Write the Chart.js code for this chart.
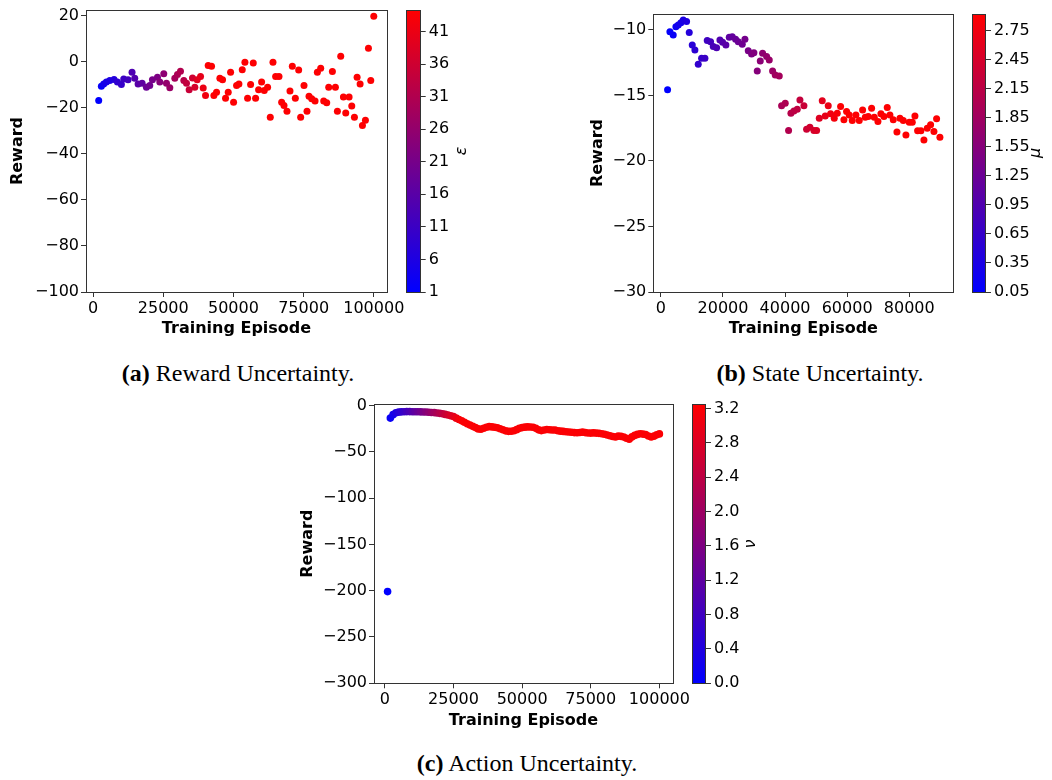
<!DOCTYPE html>
<html>
<head>
<meta charset="utf-8">
<script src="https://cdn.jsdelivr.net/npm/chart.js@4.4.1/dist/chart.umd.min.js"></script>
<style>
html,body{margin:0;padding:0;background:#fff;}
body{width:1052px;height:780px;position:relative;overflow:hidden;}
canvas{position:absolute;}
.cap{position:absolute;font-family:"Liberation Serif","Times New Roman",serif;font-size:24px;color:#000;white-space:nowrap;transform:translate(-50%,-50%);line-height:1;}
</style>
</head>
<body>
<canvas id="ca"></canvas>
<canvas id="cba"></canvas>
<canvas id="cb"></canvas>
<canvas id="cbb"></canvas>
<canvas id="cc"></canvas>
<canvas id="cbc"></canvas>
<div class="cap" style="left:238px;top:373px"><b>(a)</b> Reward Uncertainty.</div>
<div class="cap" style="left:820px;top:373px"><b>(b)</b> State Uncertainty.</div>
<div class="cap" style="left:527px;top:763px"><b>(c)</b> Action Uncertainty.</div>
<script>
// ---------------- DATA ----------------
// (a) Reward uncertainty
const aEpisodes = [2020,2970,3800,4760,5950,7490,8680,10100,10940,12480,13900,14860,16050,17480,19020,20210,21160,22950,23780,25200,26160,27350,29130,30080,31150,32340,33290,34240,35430,36260,37100,38290,39240,40070,41020,42210,43050,43990,45180,46130,47200,48150,48990,50060,51130,51960,53150,54100,55050,56120,57070,57900,58970,60040,60990,62180,63130,64090,65040,66230,67180,68010,69080,70150,70980,72050,73240,73950,75140,76210,76930,77880,79070,79900,81090,82160,83230,83940,85250,86320,87030,88220,89180,90010,91200,92150,93100,94050,95120,95950,97020,98090,98920,99990];
const aReward = [-16.9,-10.7,-9.7,-8.9,-8.2,-7.8,-8.9,-9.9,-7.5,-7.9,-4.6,-7.2,-9.7,-9.4,-11.1,-10.4,-7.9,-6.8,-8.9,-5.3,-9.4,-11.4,-7.2,-5.6,-4.2,-8.2,-9.4,-12.2,-7.1,-11.1,-7.9,-6.5,-11.5,-14.7,-1.7,-2.0,-14.7,-13.3,-7.2,-7.9,-15.9,-13.3,-4.6,-17.6,-10.4,-9.7,-3.5,-0.3,-15.9,-9.9,-0.6,-15.9,-12.2,-8.9,-12.5,-11.1,-24.1,-0.3,-6.5,-6.5,-17.6,-19.0,-21.5,-12.8,-2.0,-15.9,-3.6,-24.1,-10.4,-21.5,-15.0,-16.1,-17.1,-4.6,-2.9,-17.1,-17.9,-11.1,-4.3,-11.1,-21.6,2.3,-15.4,-22.3,-15.4,-19.3,-24.1,-6.8,-9.7,-27.7,-25.5,5.8,-8.2,19.7];
const aEpsilon = [1,2,4,5,6,7,9,10,11,12,14,15,16,17,19,20,21,22,24,25,26,27,29,30,31,32,34,35,36,37,39,40,41,42,44,44,44,44,44,44,44,44,44,44,44,44,44,44,44,44,44,44,44,44,44,44,44,44,44,44,44,44,44,44,44,44,44,44,44,44,44,44,44,44,44,44,44,44,44,44,44,44,44,44,44,44,44,44,44,44,44,44,44,44];
const aXTicks = [0,25000,50000,75000,100000];
const aYTicks = [-100,-80,-60,-40,-20,0,20];
const aCbTicks = [1,6,11,16,21,26,31,36,41];

// (b) State uncertainty
const bEpisodes = [2150,2900,3970,4830,5590,6440,7200,8270,9130,10100,10950,12030,13100,14180,14930,16000,16860,17940,19010,19870,20940,22020,22980,24060,24920,26210,27070,28140,29210,29960,31040,32010,32760,34050,34910,35980,36840,38130,38880,40060,41130,41890,42850,43930,44790,46080,46930,48010,49300,50160,51020,51980,52950,53910,54670,55850,56820,57890,58960,59820,60680,61650,62830,63900,64980,65840,66800,67880,68740,69920,70880,71850,72920,73780,74860,76040,77010,78080,78940,80010,80980,81840,82700,83770,84740,85810,86890,87960,88820,89890];
const bReward = [-14.57,-10.13,-10.38,-9.75,-9.62,-9.44,-9.24,-9.36,-10.2,-11.14,-11.52,-12.62,-12.16,-12.16,-10.81,-10.89,-11.27,-11.35,-10.76,-10.94,-11.14,-10.56,-10.51,-10.71,-10.89,-11.09,-10.71,-11.58,-11.83,-11.73,-13.13,-12.36,-11.78,-12.03,-12.29,-13.13,-13.43,-13.51,-15.79,-15.59,-17.67,-16.35,-16.18,-16.05,-15.34,-15.79,-17.57,-17.42,-17.67,-17.67,-16.73,-15.41,-16.56,-15.79,-16.40,-16.73,-16.35,-15.84,-16.86,-16.23,-16.48,-16.91,-16.48,-16.91,-16.10,-16.66,-16.61,-15.97,-16.66,-16.99,-16.40,-16.61,-15.92,-16.48,-16.86,-17.78,-16.73,-16.91,-18.01,-17.04,-17.04,-16.56,-17.70,-17.70,-18.39,-17.50,-17.24,-17.75,-16.78,-18.19];
const bMu = [0.05,0.10,0.15,0.20,0.25,0.30,0.35,0.40,0.45,0.50,0.55,0.60,0.65,0.70,0.75,0.80,0.85,0.90,0.95,1.00,1.05,1.10,1.15,1.20,1.25,1.30,1.35,1.40,1.45,1.50,1.55,1.60,1.65,1.70,1.75,1.80,1.85,1.90,1.95,2.00,2.05,2.10,2.15,2.20,2.25,2.30,2.35,2.40,2.45,2.50,2.55,2.60,2.65,2.70,2.75,2.80,2.85,2.90,2.90,2.90,2.90,2.90,2.90,2.90,2.90,2.90,2.90,2.90,2.90,2.90,2.90,2.90,2.90,2.90,2.90,2.90,2.90,2.90,2.90,2.90,2.90,2.90,2.90,2.90,2.90,2.90,2.90,2.90,2.90,2.90];
const bXTicks = [0,20000,40000,60000,80000];
const bYTicks = [-30,-25,-20,-15,-10];
const bCbTicks = [0.05,0.35,0.65,0.95,1.25,1.55,1.85,2.15,2.45,2.75];

// (c) Action uncertainty
const cEpisodes = [1000,2000,3000,4000,5000,6000,7000,8000,9000,10000,11000,12000,13000,14000,15000,16000,17000,18000,19000,20000,21000,22000,23000,24000,25000,26000,27000,28000,29000,30000,31000,32000,33000,34000,35000,36000,37000,38000,39000,40000,41000,42000,43000,44000,45000,46000,47000,48000,49000,50000,51000,52000,53000,54000,55000,56000,57000,58000,59000,60000,61000,62000,63000,64000,65000,66000,67000,68000,69000,70000,71000,72000,73000,74000,75000,76000,77000,78000,79000,80000,81000,82000,83000,84000,85000,86000,87000,88000,89000,90000,91000,92000,93000,94000,95000,96000,97000,98000,99000,100000];
const cReward = [-201,-13.7,-10,-8,-7.3,-7,-6.8,-6.7,-6.7,-6.8,-6.8,-6.9,-7,-7.1,-7.2,-7.4,-7.6,-7.8,-8.2,-8.6,-9.1,-9.7,-10.4,-11.2,-12,-13.8,-15.2,-16.7,-18.2,-19.8,-21.2,-22.6,-24,-25.4,-25.8,-24.6,-23.6,-22.9,-23.2,-23.6,-24.2,-25.2,-26.3,-27.5,-28,-27.9,-27.3,-26.2,-24.8,-24,-23.5,-23.2,-23.3,-23.6,-24.8,-26.4,-27.2,-26.6,-26.1,-26.3,-26.5,-26.6,-27.3,-27.8,-28.1,-28.4,-28.7,-29,-29.4,-29.5,-29.2,-28.9,-29.4,-29.8,-29.9,-29.7,-29.9,-30.2,-30.6,-31.2,-32,-32.8,-33.6,-34.2,-33.2,-33.4,-34.2,-35.4,-36.6,-34,-32.4,-31.3,-30.6,-31,-31.5,-33,-34.2,-33.2,-31.8,-30.8];
const cNu = [0,0.12,0.24,0.36,0.48,0.6,0.72,0.84,0.96,1.08,1.2,1.32,1.44,1.56,1.68,1.8,1.92,2.04,2.16,2.28,2.4,2.52,2.64,2.76,2.88,3.0,3.12,3.2,3.2,3.2,3.2,3.2,3.2,3.2,3.2,3.2,3.2,3.2,3.2,3.2,3.2,3.2,3.2,3.2,3.2,3.2,3.2,3.2,3.2,3.2,3.2,3.2,3.2,3.2,3.2,3.2,3.2,3.2,3.2,3.2,3.2,3.2,3.2,3.2,3.2,3.2,3.2,3.2,3.2,3.2,3.2,3.2,3.2,3.2,3.2,3.2,3.2,3.2,3.2,3.2,3.2,3.2,3.2,3.2,3.2,3.2,3.2,3.2,3.2,3.2,3.2,3.2,3.2,3.2,3.2,3.2,3.2,3.2,3.2,3.2];
const cXTicks = [0,25000,50000,75000,100000];
const cYTicks = [-300,-250,-200,-150,-100,-50,0];
const cCbTicks = [0,0.4,0.8,1.2,1.6,2.0,2.4,2.8,3.2];

// ---------------- RENDERING ----------------
Chart.defaults.font.family = "'DejaVu Sans', sans-serif";
Chart.defaults.font.size = 16;
Chart.defaults.color = '#000';
const AX = '#333';

function cmap(f){ f = Math.max(0, Math.min(1, f)); return 'rgb(' + Math.round(255*f) + ',0,' + Math.round(255*(1-f)) + ')'; }
function fmtNum(v){ return v < 0 ? '\u2212' + String(Math.abs(v)) : String(v); }
function al(p){ return Math.round(p - 0.5) + 0.5; }

const framePlugin = {
  id: 'frame',
  afterDatasetsDraw(chart){
    const {ctx, chartArea: a} = chart;
    ctx.save();
    ctx.strokeStyle = AX; ctx.lineWidth = 1;
    const l = al(a.left), t = al(a.top), r = al(a.right), b = al(a.bottom);
    ctx.strokeRect(l, t, r - l, b - t);
    ctx.restore();
  }
};
function labelPlugin(text, lx, ly){
  return {
    id: 'cblabel',
    afterDraw(chart){
      const ctx = chart.ctx;
      ctx.save();
      ctx.translate(lx, ly);
      ctx.rotate(-Math.PI/2);
      ctx.font = "italic 16px 'DejaVu Sans'";
      ctx.fillStyle = '#000';
      ctx.textAlign = 'center'; ctx.textBaseline = 'middle';
      ctx.fillText(text, 0, 0);
      ctx.restore();
    }
  };
}
function place(id, p){
  const cv = document.getElementById(id);
  cv.width = p.w; cv.height = p.h;
  cv.style.left = p.x + 'px'; cv.style.top = p.y + 'px';
  return cv;
}

function scatterChart(id, pos, xs, ys, cs, o){
  const cv = place(id, pos);
  return new Chart(cv, {
    type: 'scatter',
    data: { datasets: [{
      data: xs.map((x, i) => ({x: x, y: ys[i]})),
      pointRadius: o.r, pointHoverRadius: o.r, pointBorderWidth: 0,
      pointBackgroundColor: ctx => cmap((cs[ctx.dataIndex] - o.cmin) / (o.cmax - o.cmin))
    }]},
    options: {
      responsive: false, animation: false, events: [],
      layout: { padding: { left: 0, top: o.padT, right: o.padR, bottom: 0 } },
      plugins: { legend: { display: false }, tooltip: { enabled: false } },
      scales: {
        x: {
          type: 'linear', min: o.xmin, max: o.xmax,
          afterBuildTicks: s => { s.ticks = o.xticks.map(v => ({value: v})); },
          afterFit: s => { s.height = o.xH; s.paddingLeft = 0; s.paddingRight = 0; },
          ticks: { callback: v => fmtNum(v), padding: 2, maxRotation: 0, autoSkip: false, color: '#000' },
          grid: { drawOnChartArea: false, drawTicks: true, tickLength: 5, color: AX },
          border: { display: true, color: AX },
          title: { display: true, text: 'Training Episode', color: '#000',
                   font: { size: 16, weight: 'bold' }, padding: { top: 0, bottom: o.xTitlePad } }
        },
        y: {
          type: 'linear', min: o.ymin, max: o.ymax,
          afterBuildTicks: s => { s.ticks = o.yticks.map(v => ({value: v})); },
          afterFit: s => { s.width = o.yW; s.paddingTop = 0; s.paddingBottom = 0; },
          ticks: { callback: v => fmtNum(v), padding: 2, autoSkip: false, color: '#000' },
          grid: { drawOnChartArea: false, drawTicks: true, tickLength: 5, color: AX },
          border: { display: true, color: AX },
          title: { display: true, text: 'Reward', color: '#000',
                   font: { size: 16, weight: 'bold' }, padding: { top: o.yTitlePad, bottom: 0 } }
        }
      }
    },
    plugins: [framePlugin]
  });
}

function colorbar(id, pos, o){
  const cv = place(id, pos);
  return new Chart(cv, {
    type: 'bar',
    data: { labels: [''], datasets: [{
      data: [[o.cmin, o.cmax]],
      backgroundColor: ctx => {
        const ch = ctx.chart, a = ch.chartArea;
        if (!a) return cmap(0.5);
        const g = ch.ctx.createLinearGradient(0, a.bottom, 0, a.top);
        g.addColorStop(0, cmap(0)); g.addColorStop(1, cmap(1));
        return g;
      },
      borderWidth: 0, barPercentage: 1, categoryPercentage: 1
    }]},
    options: {
      responsive: false, animation: false, events: [],
      layout: { padding: { left: o.padL, top: o.padT, right: 0, bottom: o.padB } },
      plugins: { legend: { display: false }, tooltip: { enabled: false } },
      scales: {
        x: { display: false },
        y: {
          position: 'right', min: o.cmin, max: o.cmax,
          afterBuildTicks: s => { s.ticks = o.ticks.map(v => ({value: v})); },
          afterFit: s => { s.width = o.cbW; s.paddingTop = 0; s.paddingBottom = 0; },
          ticks: { callback: v => o.fmt(v), padding: 3, autoSkip: false, color: '#000' },
          grid: { drawOnChartArea: false, drawTicks: true, tickLength: 5, color: AX },
          border: { display: true, color: AX }
        }
      }
    },
    plugins: [framePlugin, labelPlugin(o.label, o.lx, o.ly)]
  });
}

// (a)
scatterChart('ca', {x: 0, y: 0, w: 410, h: 345}, aEpisodes, aReward, aEpsilon, {
  xmin: -2500, xmax: 104700, ymin: -100, ymax: 22.4, xticks: aXTicks, yticks: aYTicks, r: 3.5,
  cmin: 1, cmax: 44.3, padT: 10, padR: 23, yW: 86, xH: 53, yTitlePad: 8.4, xTitlePad: 6.4
});
colorbar('cba', {x: 400, y: 0, w: 80, h: 345}, {
  cmin: 1, cmax: 44.3, ticks: aCbTicks, fmt: v => String(v), padL: 6.7, padT: 10, padB: 53, cbW: 59.3,
  label: '\u03B5', lx: 61.7, ly: 151
});

// (b)
scatterChart('cb', {x: 560, y: 0, w: 400, h: 345}, bEpisodes, bReward, bMu, {
  xmin: -2450, xmax: 94200, ymin: -30, ymax: -8.78, xticks: bXTicks, yticks: bYTicks, r: 3.5,
  cmin: 0.05, cmax: 2.92, padT: 14, padR: 6.7, yW: 93.3, xH: 53, yTitlePad: 28.4, xTitlePad: 6.4
});
colorbar('cbb', {x: 960, y: 0, w: 92, h: 345}, {
  cmin: 0.05, cmax: 2.92, ticks: bCbTicks, fmt: v => v.toFixed(2), padL: 12.7, padT: 14, padB: 53, cbW: 66,
  label: '\u03BC', lx: 76, ly: 153
});

// (c)
scatterChart('cc', {x: 290, y: 390, w: 410, h: 345}, cEpisodes, cReward, cNu, {
  xmin: -3950, xmax: 104950, ymin: -300, ymax: 1.5, xticks: cXTicks, yticks: cYTicks, r: 3.8,
  cmin: 0, cmax: 3.25, padT: 14, padR: 27, yW: 84, xH: 51.7, yTitlePad: 8.4, xTitlePad: 4.4
});
colorbar('cbc', {x: 690, y: 390, w: 80, h: 345}, {
  cmin: 0, cmax: 3.25, ticks: cCbTicks, fmt: v => v.toFixed(1), padL: 2.7, padT: 14.3, padB: 51.7, cbW: 64,
  label: '\u03BD', lx: 61, ly: 154
});
</script>
</body>
</html>
